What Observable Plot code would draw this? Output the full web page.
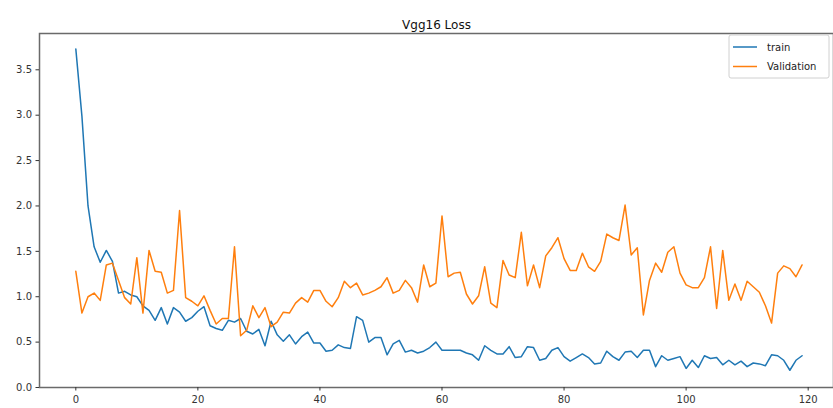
<!DOCTYPE html>
<html>
<head>
<meta charset="utf-8">
<script src="https://cdn.jsdelivr.net/npm/d3@7"></script>
<script src="https://cdn.jsdelivr.net/npm/@observablehq/plot@0.6"></script>
<style>
  body { margin: 0; background: #fff; }
  #chart svg { display: block; }
</style>
</head>
<body>
<div id="chart"></div>
<script>
const title = "Vgg16 Loss";
const seriesNames = ["train", "Validation"];
const seriesColors = ["#1f77b4", "#ff7f0e"];
const xTicks = [0, 20, 40, 60, 80, 100, 120];
const yTicks = [0, 0.5, 1.0, 1.5, 2.0, 2.5, 3.0, 3.5];

const train = [
  3.73, 2.99, 2.00, 1.55, 1.38, 1.51, 1.39, 1.04, 1.06, 1.02,
  1.00, 0.90, 0.85, 0.74, 0.88, 0.70, 0.88, 0.83, 0.73, 0.77,
  0.84, 0.89, 0.68, 0.65, 0.63, 0.74, 0.72, 0.76, 0.62, 0.59,
  0.64, 0.46, 0.73, 0.58, 0.51, 0.58, 0.48, 0.56, 0.61, 0.49,
  0.49, 0.40, 0.41, 0.47, 0.44, 0.43, 0.78, 0.74, 0.50, 0.55,
  0.55, 0.36, 0.48, 0.52, 0.39, 0.41, 0.38, 0.40, 0.44, 0.50,
  0.41, 0.41, 0.41, 0.41, 0.38, 0.36, 0.30, 0.46, 0.41, 0.37,
  0.37, 0.45, 0.33, 0.34, 0.45, 0.44, 0.30, 0.32, 0.41, 0.44,
  0.34, 0.29, 0.33, 0.37, 0.33, 0.26, 0.27, 0.40, 0.34, 0.30,
  0.39, 0.40, 0.33, 0.41, 0.41, 0.23, 0.35, 0.30, 0.32, 0.34,
  0.21, 0.30, 0.22, 0.35, 0.32, 0.33, 0.25, 0.30, 0.25, 0.29,
  0.23, 0.27, 0.26, 0.24, 0.36, 0.35, 0.30, 0.19, 0.30, 0.35
];

const validation = [
  1.28, 0.82, 1.00, 1.04, 0.96, 1.35, 1.37, 1.18, 0.99, 0.92,
  1.43, 0.82, 1.51, 1.28, 1.27, 1.04, 1.07, 1.95, 0.99, 0.95,
  0.90, 1.01, 0.85, 0.70, 0.76, 0.76, 1.55, 0.57, 0.63, 0.90,
  0.77, 0.88, 0.67, 0.72, 0.83, 0.82, 0.93, 0.99, 0.94, 1.07,
  1.07, 0.95, 0.89, 0.99, 1.17, 1.10, 1.15, 1.02, 1.04, 1.07,
  1.11, 1.21, 1.04, 1.07, 1.18, 1.10, 0.94, 1.35, 1.11, 1.15,
  1.89, 1.22, 1.26, 1.27, 1.03, 0.92, 1.01, 1.33, 0.93, 0.88,
  1.40, 1.24, 1.21, 1.71, 1.12, 1.35, 1.10, 1.45, 1.54, 1.65,
  1.42, 1.29, 1.29, 1.48, 1.33, 1.28, 1.39, 1.69, 1.65, 1.62,
  2.01, 1.46, 1.54, 0.80, 1.18, 1.37, 1.27, 1.49, 1.55, 1.26,
  1.13, 1.10, 1.10, 1.21, 1.55, 0.87, 1.51, 0.96, 1.14, 0.96,
  1.17, 1.11, 1.05, 0.90, 0.71, 1.26, 1.34, 1.31, 1.22, 1.35
];

const epochs = d3.range(train.length);
const rows = [
  ...epochs.map(i => ({epoch: i, loss: train[i], series: seriesNames[0]})),
  ...epochs.map(i => ({epoch: i, loss: validation[i], series: seriesNames[1]}))
];

const chart = Plot.plot({
  width: 833,
  height: 408,
  marginLeft: 39,
  marginRight: 0,
  marginTop: 33,
  marginBottom: 21,
  style: {fontFamily: "DejaVu Sans, sans-serif", fontSize: "10px", color: "#333", background: "#fff"},
  x: {domain: [-5.95, 124.15], label: null},
  y: {domain: [0, 3.9], label: null},
  color: {domain: seriesNames, range: seriesColors},
  marks: [
    Plot.line(rows, {x: "epoch", y: "loss", stroke: "series", z: "series", strokeWidth: 1.5}),
    Plot.frame({stroke: "#6a6a6a", strokeWidth: 1.5}),
    Plot.axisX({ticks: xTicks, tickSize: 3.5, tickPadding: 5, tickFormat: d => String(d), label: null, stroke: "#333"}),
    Plot.axisY({ticks: yTicks, tickSize: 3.5, tickPadding: 4, tickFormat: d3.format(".1f"), label: null, stroke: "#333"}),
    Plot.text([title], {frameAnchor: "top", dy: -13, fontSize: 12, fill: "#111"})
  ]
});

document.getElementById("chart").appendChild(chart);

// legend (upper right)
const svg = d3.select(chart);
const lg = svg.append("g")
  .attr("font-family", "DejaVu Sans, sans-serif")
  .attr("font-size", 10)
  .attr("text-anchor", "start");
lg.append("rect").attr("x", 729).attr("y", 35).attr("width", 100).attr("height", 43)
  .attr("rx", 2).attr("fill", "#fff").attr("fill-opacity", 0.8).attr("stroke", "#d0d0d0");
seriesNames.forEach((name, k) => {
  const y = 47 + k * 19.5;
  lg.append("line").attr("x1", 733).attr("x2", 757).attr("y1", y).attr("y2", y)
    .attr("stroke", seriesColors[k]).attr("stroke-width", 1.5);
  lg.append("text").attr("x", 767).attr("y", y).attr("dy", "0.35em")
    .attr("text-anchor", "start").attr("fill", "#222").text(name);
});
</script>
</body>
</html>
